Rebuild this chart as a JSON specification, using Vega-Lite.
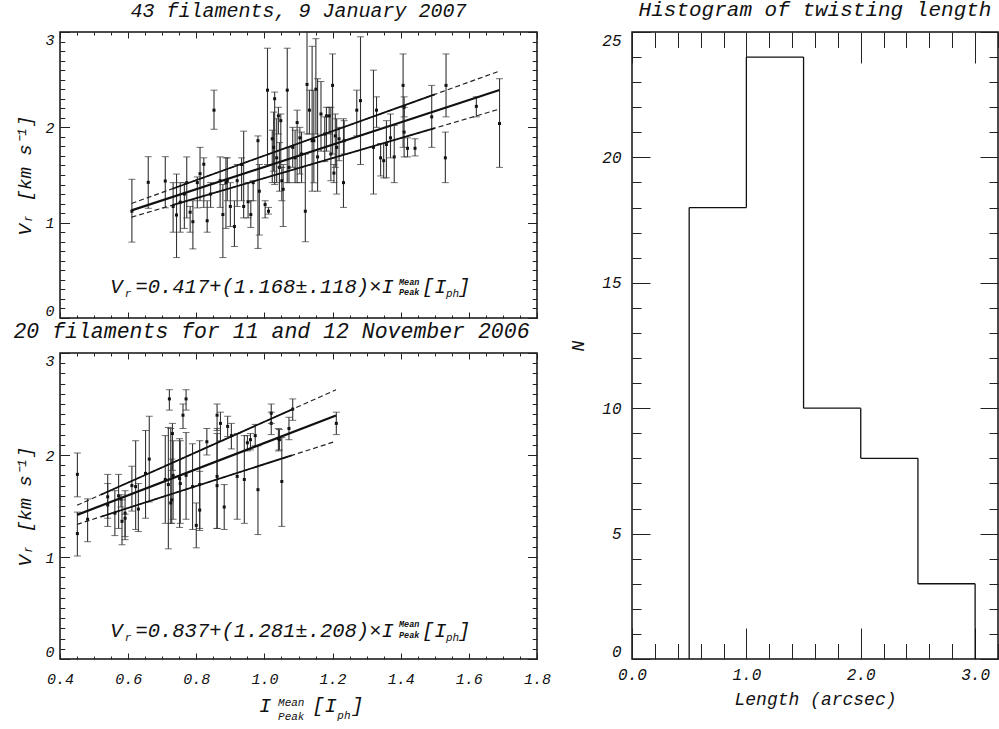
{
  "$schema": "https://vega.github.io/schema/vega-lite/v6.json",
  "background": "white",
  "padding": {"left": 12, "top": -3, "right": 0, "bottom": 0},
  "autosize": {"type": "pad"},
  "bounds": "full",
  "spacing": 17,
  "datasets": {
    "jan": [
      {"x": 0.611, "v": 1.12, "lo": 0.796, "hi": 1.455},
      {"x": 0.659, "v": 1.423, "lo": 1.151, "hi": 1.692},
      {"x": 0.709, "v": 1.437, "lo": 1.156, "hi": 1.692},
      {"x": 0.732, "v": 1.17, "lo": 0.9, "hi": 1.42},
      {"x": 0.742, "v": 1.08, "lo": 0.634, "hi": 1.51},
      {"x": 0.753, "v": 1.215, "lo": 0.9, "hi": 1.42},
      {"x": 0.765, "v": 1.3, "lo": 0.94, "hi": 1.42},
      {"x": 0.772, "v": 1.42, "lo": 1.05, "hi": 1.69},
      {"x": 0.782, "v": 1.11, "lo": 0.9, "hi": 1.17},
      {"x": 0.79, "v": 1.01, "lo": 0.725, "hi": 1.23},
      {"x": 0.803, "v": 1.42, "lo": 1.155, "hi": 1.48},
      {"x": 0.811, "v": 1.514, "lo": 1.23, "hi": 1.79},
      {"x": 0.822, "v": 1.613, "lo": 1.16, "hi": 1.68},
      {"x": 0.832, "v": 1.02, "lo": 0.9, "hi": 1.23},
      {"x": 0.852, "v": 2.18, "lo": 1.98, "hi": 2.39},
      {"x": 0.842, "v": 1.3, "lo": 1.16, "hi": 1.42},
      {"x": 0.87, "v": 1.44, "lo": 1.16, "hi": 1.69},
      {"x": 0.878, "v": 1.085, "lo": 0.634, "hi": 1.4},
      {"x": 0.887, "v": 1.42, "lo": 0.94, "hi": 1.68},
      {"x": 0.891, "v": 1.44, "lo": 1.23, "hi": 1.68},
      {"x": 0.9, "v": 1.17, "lo": 0.96, "hi": 1.42},
      {"x": 0.912, "v": 0.96, "lo": 0.75, "hi": 1.23},
      {"x": 0.92, "v": 1.44, "lo": 1.17, "hi": 1.61},
      {"x": 0.933, "v": 1.61, "lo": 1.23, "hi": 1.68},
      {"x": 0.939, "v": 1.17, "lo": 1.05, "hi": 1.96},
      {"x": 0.952, "v": 1.22, "lo": 1.05, "hi": 1.42},
      {"x": 0.96, "v": 1.085, "lo": 0.95, "hi": 1.23},
      {"x": 0.967, "v": 1.42, "lo": 1.23, "hi": 1.44},
      {"x": 0.981, "v": 1.86, "lo": 0.73, "hi": 1.91},
      {"x": 0.985, "v": 1.33, "lo": 0.87, "hi": 1.61},
      {"x": 1.002, "v": 1.19, "lo": 1.05, "hi": 1.23},
      {"x": 1.009, "v": 2.39, "lo": 1.61, "hi": 2.83},
      {"x": 1.012, "v": 1.12, "lo": 1.09, "hi": 1.16},
      {"x": 1.023, "v": 1.88, "lo": 1.42, "hi": 1.97},
      {"x": 1.027, "v": 1.79, "lo": 1.54, "hi": 2.16},
      {"x": 1.03, "v": 2.3, "lo": 1.4, "hi": 2.37},
      {"x": 1.036, "v": 1.68, "lo": 1.42, "hi": 2.09},
      {"x": 1.041, "v": 2.12, "lo": 1.93, "hi": 2.21},
      {"x": 1.044, "v": 1.58, "lo": 1.33, "hi": 1.84},
      {"x": 1.048, "v": 2.07, "lo": 1.58, "hi": 2.14},
      {"x": 1.051, "v": 1.44, "lo": 1.23, "hi": 1.58},
      {"x": 1.067, "v": 2.39, "lo": 1.42, "hi": 2.83},
      {"x": 1.072, "v": 1.58, "lo": 1.42, "hi": 1.79},
      {"x": 1.055, "v": 1.35, "lo": 0.96, "hi": 1.61},
      {"x": 1.083, "v": 1.79, "lo": 1.58, "hi": 2.0},
      {"x": 1.09, "v": 1.68, "lo": 1.42, "hi": 1.97},
      {"x": 1.096, "v": 2.05, "lo": 1.42, "hi": 2.18},
      {"x": 1.104, "v": 1.89, "lo": 1.51, "hi": 2.0},
      {"x": 1.109, "v": 1.72, "lo": 1.42, "hi": 1.95},
      {"x": 1.12, "v": 1.12, "lo": 0.8, "hi": 1.72},
      {"x": 1.125, "v": 2.45, "lo": 1.93, "hi": 3.0},
      {"x": 1.132, "v": 2.18, "lo": 1.93, "hi": 2.39},
      {"x": 1.14, "v": 1.86, "lo": 1.33, "hi": 2.85},
      {"x": 1.145, "v": 1.86, "lo": 1.42, "hi": 2.39},
      {"x": 1.151, "v": 2.4, "lo": 1.93, "hi": 2.93},
      {"x": 1.156, "v": 1.69, "lo": 1.33, "hi": 2.51},
      {"x": 1.166, "v": 2.14, "lo": 1.75, "hi": 2.48},
      {"x": 1.177, "v": 1.93, "lo": 1.64, "hi": 2.11},
      {"x": 1.182, "v": 2.12, "lo": 1.75, "hi": 2.21},
      {"x": 1.19, "v": 2.12, "lo": 1.93, "hi": 2.21},
      {"x": 1.195, "v": 1.72, "lo": 1.44, "hi": 2.21},
      {"x": 1.2, "v": 2.44, "lo": 1.72, "hi": 2.77},
      {"x": 1.208, "v": 1.91, "lo": 1.58, "hi": 2.14},
      {"x": 1.219, "v": 1.88, "lo": 1.65, "hi": 2.0},
      {"x": 1.204, "v": 1.52, "lo": 1.42, "hi": 1.61},
      {"x": 1.212, "v": 1.79, "lo": 1.3, "hi": 2.09},
      {"x": 1.232, "v": 1.42, "lo": 1.16, "hi": 2.09},
      {"x": 1.234, "v": 1.86, "lo": 1.72, "hi": 2.07},
      {"x": 1.271, "v": 2.18, "lo": 1.91, "hi": 2.39},
      {"x": 1.282, "v": 2.28, "lo": 1.61, "hi": 2.95},
      {"x": 1.32, "v": 1.79, "lo": 1.3, "hi": 2.6},
      {"x": 1.329, "v": 2.18, "lo": 2.0, "hi": 2.32},
      {"x": 1.341, "v": 1.68, "lo": 1.49, "hi": 1.83},
      {"x": 1.35, "v": 1.65, "lo": 1.47, "hi": 1.83},
      {"x": 1.358, "v": 1.82, "lo": 1.47, "hi": 2.07},
      {"x": 1.37, "v": 1.89, "lo": 1.68, "hi": 2.14},
      {"x": 1.381, "v": 1.69, "lo": 1.42, "hi": 2.02},
      {"x": 1.407, "v": 2.44, "lo": 1.79, "hi": 2.77},
      {"x": 1.41, "v": 1.95, "lo": 1.69, "hi": 2.21},
      {"x": 1.42, "v": 1.78, "lo": 1.69, "hi": 1.89},
      {"x": 1.442, "v": 1.78, "lo": 1.7, "hi": 1.88},
      {"x": 1.41, "v": 2.21, "lo": 2.11, "hi": 2.32},
      {"x": 1.491, "v": 2.11, "lo": 1.79, "hi": 2.44},
      {"x": 1.531, "v": 1.68, "lo": 1.42, "hi": 1.95},
      {"x": 1.533, "v": 2.44, "lo": 2.11, "hi": 2.77},
      {"x": 1.622, "v": 2.22, "lo": 2.11, "hi": 2.32},
      {"x": 1.69, "v": 2.04, "lo": 1.58, "hi": 2.51}
    ],
    "nov": [
      {"x": 0.451, "v": 1.81, "lo": 1.59, "hi": 2.02},
      {"x": 0.451, "v": 1.23, "lo": 1.01, "hi": 1.44},
      {"x": 0.481, "v": 1.37, "lo": 1.15, "hi": 1.57},
      {"x": 0.54, "v": 1.59, "lo": 1.3, "hi": 1.81},
      {"x": 0.54, "v": 1.51, "lo": 1.38, "hi": 1.72},
      {"x": 0.561, "v": 1.43, "lo": 1.21, "hi": 1.65},
      {"x": 0.572, "v": 1.6, "lo": 1.28, "hi": 1.81},
      {"x": 0.582, "v": 1.35, "lo": 1.12, "hi": 1.56},
      {"x": 0.579, "v": 1.57, "lo": 1.49, "hi": 1.61},
      {"x": 0.591, "v": 1.43, "lo": 1.17, "hi": 1.65},
      {"x": 0.591, "v": 1.38, "lo": 1.2, "hi": 1.42},
      {"x": 0.611, "v": 1.7, "lo": 1.45, "hi": 1.89},
      {"x": 0.622, "v": 1.69, "lo": 1.27, "hi": 2.14},
      {"x": 0.63, "v": 1.47, "lo": 1.25, "hi": 1.72},
      {"x": 0.651, "v": 1.82, "lo": 1.38, "hi": 2.24},
      {"x": 0.662, "v": 1.96, "lo": 1.54, "hi": 2.38},
      {"x": 0.709, "v": 1.76, "lo": 1.33, "hi": 2.19},
      {"x": 0.718, "v": 1.71, "lo": 1.08, "hi": 2.27},
      {"x": 0.721, "v": 2.55, "lo": 2.44, "hi": 2.64},
      {"x": 0.725, "v": 1.53, "lo": 1.33, "hi": 2.26},
      {"x": 0.73, "v": 2.21, "lo": 1.85, "hi": 2.31},
      {"x": 0.732, "v": 1.8, "lo": 1.37, "hi": 2.14},
      {"x": 0.728, "v": 1.56, "lo": 1.33, "hi": 1.96},
      {"x": 0.751, "v": 1.77, "lo": 1.29, "hi": 2.16},
      {"x": 0.753, "v": 1.72, "lo": 1.33, "hi": 2.14},
      {"x": 0.761, "v": 2.39, "lo": 2.26, "hi": 2.5},
      {"x": 0.77, "v": 2.55, "lo": 2.44, "hi": 2.64},
      {"x": 0.77, "v": 1.8, "lo": 1.37, "hi": 2.22},
      {"x": 0.789, "v": 1.69, "lo": 1.27, "hi": 2.11},
      {"x": 0.8, "v": 1.31, "lo": 1.09, "hi": 1.53},
      {"x": 0.81, "v": 1.71, "lo": 1.26, "hi": 2.14},
      {"x": 0.81, "v": 1.46, "lo": 1.28, "hi": 1.84},
      {"x": 0.831, "v": 2.13, "lo": 2.0, "hi": 2.26},
      {"x": 0.861, "v": 2.39, "lo": 2.24, "hi": 2.5},
      {"x": 0.861, "v": 1.79, "lo": 1.28, "hi": 2.26},
      {"x": 0.861, "v": 1.7, "lo": 1.28, "hi": 2.21},
      {"x": 0.871, "v": 2.31, "lo": 2.14, "hi": 2.42},
      {"x": 0.882, "v": 1.49, "lo": 1.27, "hi": 1.71},
      {"x": 0.892, "v": 2.28, "lo": 2.18, "hi": 2.38},
      {"x": 0.903, "v": 2.19, "lo": 2.06, "hi": 2.31},
      {"x": 0.92, "v": 1.79, "lo": 1.37, "hi": 2.21},
      {"x": 0.941, "v": 1.76, "lo": 1.33, "hi": 2.19},
      {"x": 0.95, "v": 2.12, "lo": 2.04, "hi": 2.19},
      {"x": 0.959, "v": 2.15, "lo": 2.05, "hi": 2.21},
      {"x": 0.973, "v": 2.19, "lo": 2.09, "hi": 2.3},
      {"x": 0.981, "v": 1.66, "lo": 1.22, "hi": 2.09},
      {"x": 1.02, "v": 2.41, "lo": 2.31, "hi": 2.5},
      {"x": 1.02, "v": 2.31, "lo": 2.2, "hi": 2.42},
      {"x": 1.041, "v": 2.16, "lo": 2.04, "hi": 2.26},
      {"x": 1.051, "v": 1.74, "lo": 1.3, "hi": 2.17},
      {"x": 1.044, "v": 2.15, "lo": 2.05, "hi": 2.25},
      {"x": 1.072, "v": 2.26, "lo": 2.15, "hi": 2.37},
      {"x": 1.083, "v": 2.45, "lo": 2.34, "hi": 2.55},
      {"x": 1.211, "v": 2.31, "lo": 2.2, "hi": 2.42}
    ],
    "janMid": [{"line": "mid", "x": 0.61, "v": 1.129}, {"line": "mid", "x": 1.69, "v": 2.391}],
    "janBand": [
      {"line": "upper", "x": 0.61, "v": 1.2015}, {"line": "upper", "x": 1.69, "v": 2.59},
      {"line": "lower", "x": 0.61, "v": 1.0575}, {"line": "lower", "x": 1.69, "v": 2.1915}
    ],
    "janBandSolid": [
      {"line": "upper", "x": 0.73, "v": 1.356}, {"line": "upper", "x": 1.5, "v": 2.346},
      {"line": "lower", "x": 0.73, "v": 1.1835}, {"line": "lower", "x": 1.5, "v": 1.992}
    ],
    "novMid": [{"line": "mid", "x": 0.45, "v": 1.413}, {"line": "mid", "x": 1.21, "v": 2.387}],
    "novBand": [
      {"line": "upper", "x": 0.45, "v": 1.507}, {"line": "upper", "x": 1.21, "v": 2.639},
      {"line": "lower", "x": 0.45, "v": 1.32}, {"line": "lower", "x": 1.21, "v": 2.135}
    ],
    "novBandSolid": [
      {"line": "upper", "x": 0.52, "v": 1.611}, {"line": "upper", "x": 1.08, "v": 2.445},
      {"line": "lower", "x": 0.52, "v": 1.395}, {"line": "lower", "x": 1.08, "v": 1.996}
    ],
    "eqJanBig": [
      {"t": "V", "x": 0.5476, "y": 0.262},
      {"t": "=0.417+(1.168±.118)×I", "x": 0.6213, "y": 0.262},
      {"t": "[I", "x": 1.4625, "y": 0.262},
      {"t": "]", "x": 1.568, "y": 0.262}
    ],
    "eqJanSmall": [
      {"t": "r", "x": 0.5899, "y": 0.22},
      {"t": "ph", "x": 1.5329, "y": 0.22}
    ],
    "eqJanTiny": [
      {"t": "Mean", "x": 1.395, "y": 0.341},
      {"t": "Peak", "x": 1.395, "y": 0.245}
    ],
    "eqNovBig": [
      {"t": "V", "x": 0.5476, "y": 0.216},
      {"t": "=0.837+(1.281±.208)×I", "x": 0.6213, "y": 0.216},
      {"t": "[I", "x": 1.4625, "y": 0.216},
      {"t": "]", "x": 1.568, "y": 0.216},
      {"t": "I", "x": 0.984, "y": -0.52},
      {"t": "[I", "x": 1.1405, "y": -0.52},
      {"t": "]", "x": 1.255, "y": -0.52}
    ],
    "eqNovSmall": [
      {"t": "r", "x": 0.5899, "y": 0.176},
      {"t": "ph", "x": 1.5329, "y": 0.176},
      {"t": "ph", "x": 1.214, "y": -0.585},
      {"t": "Mean", "x": 1.04, "y": -0.46},
      {"t": "Peak", "x": 1.04, "y": -0.6}
    ],
    "eqNovTiny": [
      {"t": "Mean", "x": 1.395, "y": 0.314},
      {"t": "Peak", "x": 1.395, "y": 0.21}
    ],
    "bins": [
      {"lo": 0.5, "hi": 1.0, "n": 18},
      {"lo": 1.0, "hi": 1.5, "n": 24},
      {"lo": 1.5, "hi": 2.0, "n": 10},
      {"lo": 2.0, "hi": 2.5, "n": 8},
      {"lo": 2.5, "hi": 3.0, "n": 3}
    ],
    "edges": [
      {"at": 0.5, "from": 0, "to": 18},
      {"at": 1.0, "from": 18, "to": 24},
      {"at": 1.5, "from": 24, "to": 10},
      {"at": 2.0, "from": 10, "to": 8},
      {"at": 2.5, "from": 8, "to": 3},
      {"at": 3.0, "from": 3, "to": 0}
    ]
  },
  "hconcat": [
    {
      "vconcat": [
        {
          "width": 477,
          "height": 286,
          "title": {"text": "43 filaments, 9 January 2007", "fontSize": 20, "offset": 10},
          "layer": [
            {
              "data": {"name": "jan"},
              "mark": {"type": "rule", "stroke": "#333", "strokeWidth": 1.1},
              "encoding": {
                "x": {"field": "x", "type": "quantitative", "scale": {"domain": [0.4, 1.8], "nice": false, "zero": false},
                  "axis": {"orient": "bottom", "values": [0.4,0.45,0.5,0.55,0.6,0.65,0.7,0.75,0.8,0.85,0.9,0.95,1.0,1.05,1.1,1.15,1.2,1.25,1.3,1.35,1.4,1.45,1.5,1.55,1.6,1.65,1.7,1.75,1.8],
                    "labels": false, "tickSize": {"condition": {"test": "abs(datum.value*5-round(datum.value*5))<0.001", "value": -6}, "value": -3}, "title": null}},
                "y": {"field": "lo", "type": "quantitative", "scale": {"domain": [0, 3], "nice": false, "zero": false},
                  "axis": {"orient": "left", "values": [0,0.1,0.2,0.3,0.4,0.5,0.6,0.7,0.8,0.9,1.0,1.1,1.2,1.3,1.4,1.5,1.6,1.7,1.8,1.9,2.0,2.1,2.2,2.3,2.4,2.5,2.6,2.7,2.8,2.9,3.0],
                    "labelExpr": "abs(datum.value-round(datum.value))<0.001 ? format(datum.value,'d') : ''",
                    "tickSize": {"condition": {"test": "abs(datum.value-round(datum.value))<0.001", "value": -9.5}, "value": -4.8},
                    "labelPadding": 15.5, "labelFlush": true, "title": "Vᵣ [km s⁻¹]", "titleFontSize": 19, "titlePadding": 10}},
                "y2": {"field": "hi"}
              }
            },
            {
              "data": {"name": "jan"},
              "mark": {"type": "point", "shape": "square", "filled": true, "size": 9, "color": "#111", "opacity": 1},
              "encoding": {
                "x": {"field": "x", "type": "quantitative", "scale": {"domain": [0.4, 1.8], "nice": false, "zero": false},
                  "axis": {"orient": "top", "values": [0.4,0.45,0.5,0.55,0.6,0.65,0.7,0.75,0.8,0.85,0.9,0.95,1.0,1.05,1.1,1.15,1.2,1.25,1.3,1.35,1.4,1.45,1.5,1.55,1.6,1.65,1.7,1.75,1.8],
                    "labels": false, "tickSize": {"condition": {"test": "abs(datum.value*5-round(datum.value*5))<0.001", "value": -6}, "value": -3}, "title": null}},
                "y": {"field": "v", "type": "quantitative", "scale": {"domain": [0, 3], "nice": false, "zero": false},
                  "axis": {"orient": "right", "values": [0,0.1,0.2,0.3,0.4,0.5,0.6,0.7,0.8,0.9,1.0,1.1,1.2,1.3,1.4,1.5,1.6,1.7,1.8,1.9,2.0,2.1,2.2,2.3,2.4,2.5,2.6,2.7,2.8,2.9,3.0],
                    "labels": false, "tickSize": {"condition": {"test": "abs(datum.value-round(datum.value))<0.001", "value": -9.5}, "value": -4.8}, "title": null}}
              }
            },
            {
              "data": {"name": "jan"},
              "mark": {"type": "tick", "orient": "horizontal", "size": 7, "thickness": 1, "color": "#333"},
              "encoding": {
                "x": {"field": "x", "type": "quantitative", "axis": null},
                "y": {"field": "lo", "type": "quantitative", "axis": null}
              }
            },
            {
              "data": {"name": "jan"},
              "mark": {"type": "tick", "orient": "horizontal", "size": 7, "thickness": 1, "color": "#333"},
              "encoding": {
                "x": {"field": "x", "type": "quantitative", "axis": null},
                "y": {"field": "hi", "type": "quantitative", "axis": null}
              }
            },
            {
              "data": {"name": "janBand"},
              "mark": {"type": "line", "color": "#222", "strokeWidth": 1.2, "strokeDash": [5, 3]},
              "encoding": {
                "x": {"field": "x", "type": "quantitative", "axis": null},
                "y": {"field": "v", "type": "quantitative", "axis": null},
                "detail": {"field": "line"}
              }
            },
            {
              "data": {"name": "janBandSolid"},
              "mark": {"type": "line", "color": "#111", "strokeWidth": 1.7},
              "encoding": {
                "x": {"field": "x", "type": "quantitative", "axis": null},
                "y": {"field": "v", "type": "quantitative", "axis": null},
                "detail": {"field": "line"}
              }
            },
            {
              "data": {"name": "janMid"},
              "mark": {"type": "line", "color": "#111", "strokeWidth": 2.2},
              "encoding": {
                "x": {"field": "x", "type": "quantitative", "axis": null},
                "y": {"field": "v", "type": "quantitative", "axis": null}
              }
            },
            {
              "data": {"name": "eqJanBig"},
              "mark": {"type": "text", "fontSize": 20.5},
              "encoding": {
                "x": {"field": "x", "type": "quantitative", "axis": null},
                "y": {"field": "y", "type": "quantitative", "axis": null},
                "text": {"field": "t"}
              }
            },
            {
              "data": {"name": "eqJanSmall"},
              "mark": {"type": "text", "fontSize": 11},
              "encoding": {
                "x": {"field": "x", "type": "quantitative", "axis": null},
                "y": {"field": "y", "type": "quantitative", "axis": null},
                "text": {"field": "t"}
              }
            },
            {
              "data": {"name": "eqJanTiny"},
              "mark": {"type": "text", "fontSize": 8.5, "fontWeight": "bold"},
              "encoding": {
                "x": {"field": "x", "type": "quantitative", "axis": null},
                "y": {"field": "y", "type": "quantitative", "axis": null},
                "text": {"field": "t"}
              }
            }
          ],
          "resolve": {"axis": {"x": "independent", "y": "independent"}}
        },
        {
          "width": 477,
          "height": 306,
          "title": {"text": "20 filaments for 11 and 12 November 2006", "fontSize": 21.5, "offset": 10, "dx": -27},
          "layer": [
            {
              "data": {"name": "nov"},
              "mark": {"type": "rule", "stroke": "#333", "strokeWidth": 1.1},
              "encoding": {
                "x": {"field": "x", "type": "quantitative", "scale": {"domain": [0.4, 1.8], "nice": false, "zero": false},
                  "axis": {"orient": "bottom", "values": [0.4,0.45,0.5,0.55,0.6,0.65,0.7,0.75,0.8,0.85,0.9,0.95,1.0,1.05,1.1,1.15,1.2,1.25,1.3,1.35,1.4,1.45,1.5,1.55,1.6,1.65,1.7,1.75,1.8],
                    "labelExpr": "abs(datum.value*5-round(datum.value*5))<0.001 ? format(datum.value,'.1f') : ''",
                    "tickSize": {"condition": {"test": "abs(datum.value*5-round(datum.value*5))<0.001", "value": -6}, "value": -3},
                    "labelPadding": 18, "labelFlush": false, "title": null}},
                "y": {"field": "lo", "type": "quantitative", "scale": {"domain": [0, 3], "nice": false, "zero": false},
                  "axis": {"orient": "left", "values": [0,0.1,0.2,0.3,0.4,0.5,0.6,0.7,0.8,0.9,1.0,1.1,1.2,1.3,1.4,1.5,1.6,1.7,1.8,1.9,2.0,2.1,2.2,2.3,2.4,2.5,2.6,2.7,2.8,2.9,3.0],
                    "labelExpr": "abs(datum.value-round(datum.value))<0.001 ? format(datum.value,'d') : ''",
                    "tickSize": {"condition": {"test": "abs(datum.value-round(datum.value))<0.001", "value": -9.5}, "value": -4.8},
                    "labelPadding": 15.5, "labelFlush": true, "title": "Vᵣ [km s⁻¹]", "titleFontSize": 19, "titlePadding": 10}},
                "y2": {"field": "hi"}
              }
            },
            {
              "data": {"name": "nov"},
              "mark": {"type": "point", "shape": "square", "filled": true, "size": 9, "color": "#111", "opacity": 1},
              "encoding": {
                "x": {"field": "x", "type": "quantitative", "scale": {"domain": [0.4, 1.8], "nice": false, "zero": false},
                  "axis": {"orient": "top", "values": [0.4,0.45,0.5,0.55,0.6,0.65,0.7,0.75,0.8,0.85,0.9,0.95,1.0,1.05,1.1,1.15,1.2,1.25,1.3,1.35,1.4,1.45,1.5,1.55,1.6,1.65,1.7,1.75,1.8],
                    "labels": false, "tickSize": {"condition": {"test": "abs(datum.value*5-round(datum.value*5))<0.001", "value": -6}, "value": -3}, "title": null}},
                "y": {"field": "v", "type": "quantitative", "scale": {"domain": [0, 3], "nice": false, "zero": false},
                  "axis": {"orient": "right", "values": [0,0.1,0.2,0.3,0.4,0.5,0.6,0.7,0.8,0.9,1.0,1.1,1.2,1.3,1.4,1.5,1.6,1.7,1.8,1.9,2.0,2.1,2.2,2.3,2.4,2.5,2.6,2.7,2.8,2.9,3.0],
                    "labels": false, "tickSize": {"condition": {"test": "abs(datum.value-round(datum.value))<0.001", "value": -9.5}, "value": -4.8}, "title": null}}
              }
            },
            {
              "data": {"name": "nov"},
              "mark": {"type": "tick", "orient": "horizontal", "size": 7, "thickness": 1, "color": "#333"},
              "encoding": {
                "x": {"field": "x", "type": "quantitative", "axis": null},
                "y": {"field": "lo", "type": "quantitative", "axis": null}
              }
            },
            {
              "data": {"name": "nov"},
              "mark": {"type": "tick", "orient": "horizontal", "size": 7, "thickness": 1, "color": "#333"},
              "encoding": {
                "x": {"field": "x", "type": "quantitative", "axis": null},
                "y": {"field": "hi", "type": "quantitative", "axis": null}
              }
            },
            {
              "data": {"name": "novBand"},
              "mark": {"type": "line", "color": "#222", "strokeWidth": 1.2, "strokeDash": [5, 3]},
              "encoding": {
                "x": {"field": "x", "type": "quantitative", "axis": null},
                "y": {"field": "v", "type": "quantitative", "axis": null},
                "detail": {"field": "line"}
              }
            },
            {
              "data": {"name": "novBandSolid"},
              "mark": {"type": "line", "color": "#111", "strokeWidth": 1.7},
              "encoding": {
                "x": {"field": "x", "type": "quantitative", "axis": null},
                "y": {"field": "v", "type": "quantitative", "axis": null},
                "detail": {"field": "line"}
              }
            },
            {
              "data": {"name": "novMid"},
              "mark": {"type": "line", "color": "#111", "strokeWidth": 2.2},
              "encoding": {
                "x": {"field": "x", "type": "quantitative", "axis": null},
                "y": {"field": "v", "type": "quantitative", "axis": null}
              }
            },
            {
              "data": {"name": "eqNovBig"},
              "mark": {"type": "text", "fontSize": 20.5},
              "encoding": {
                "x": {"field": "x", "type": "quantitative", "axis": null},
                "y": {"field": "y", "type": "quantitative", "axis": null},
                "text": {"field": "t"}
              }
            },
            {
              "data": {"name": "eqNovSmall"},
              "mark": {"type": "text", "fontSize": 11},
              "encoding": {
                "x": {"field": "x", "type": "quantitative", "axis": null},
                "y": {"field": "y", "type": "quantitative", "axis": null},
                "text": {"field": "t"}
              }
            },
            {
              "data": {"name": "eqNovTiny"},
              "mark": {"type": "text", "fontSize": 8.5, "fontWeight": "bold"},
              "encoding": {
                "x": {"field": "x", "type": "quantitative", "axis": null},
                "y": {"field": "y", "type": "quantitative", "axis": null},
                "text": {"field": "t"}
              }
            }
          ],
          "resolve": {"axis": {"x": "independent", "y": "independent"}}
        }
      ],
      "spacing": 35,
      "bounds": "flush"
    },
    {
      "width": 366,
      "height": 627,
      "title": {"text": "Histogram of twisting length", "fontSize": 21, "offset": 12},
      "layer": [
        {
          "data": {"name": "bins"},
          "mark": {"type": "rule", "stroke": "#111", "strokeWidth": 1.3},
          "encoding": {
            "x": {"field": "lo", "type": "quantitative", "scale": {"domain": [0, 3.2], "nice": false, "zero": false},
              "axis": {"orient": "bottom", "values": [0,0.2,0.4,0.6,0.8,1.0,1.2,1.4,1.6,1.8,2.0,2.2,2.4,2.6,2.8,3.0,3.2],
                "labelExpr": "abs(datum.value-round(datum.value))<0.001 ? format(datum.value,'.1f') : ''",
                "tickSize": {"condition": {"test": "abs(datum.value-round(datum.value))<0.001", "value": -31}, "value": -15.5},
                "labelPadding": 38, "labelFlush": false, "labelFontSize": 16,
                "title": "Length (arcsec)", "titleFontSize": 18, "titlePadding": -7}},
            "x2": {"field": "hi"},
            "y": {"field": "n", "type": "quantitative", "scale": {"domain": [0, 25], "nice": false, "zero": false},
              "axis": {"orient": "left", "values": [0,1,2,3,4,5,6,7,8,9,10,11,12,13,14,15,16,17,18,19,20,21,22,23,24,25],
                "labelExpr": "datum.value % 5 == 0 ? format(datum.value,'d') : ''",
                "tickSize": {"condition": {"test": "datum.value % 5 == 0", "value": -18}, "value": -9},
                "labelPadding": 29, "labelFlush": true, "labelFontSize": 16,
                "title": "N", "titleFontSize": 18, "titlePadding": 14}}
          }
        },
        {
          "data": {"name": "edges"},
          "mark": {"type": "rule", "stroke": "#111", "strokeWidth": 1.3},
          "encoding": {
            "x": {"field": "at", "type": "quantitative", "scale": {"domain": [0, 3.2], "nice": false, "zero": false},
              "axis": {"orient": "top", "values": [0,0.2,0.4,0.6,0.8,1.0,1.2,1.4,1.6,1.8,2.0,2.2,2.4,2.6,2.8,3.0,3.2],
                "labels": false,
                "tickSize": {"condition": {"test": "abs(datum.value-round(datum.value))<0.001", "value": -31}, "value": -15.5},
                "title": null}},
            "y": {"field": "from", "type": "quantitative", "scale": {"domain": [0, 25], "nice": false, "zero": false},
              "axis": {"orient": "right", "values": [0,1,2,3,4,5,6,7,8,9,10,11,12,13,14,15,16,17,18,19,20,21,22,23,24,25],
                "labels": false,
                "tickSize": {"condition": {"test": "datum.value % 5 == 0", "value": -18}, "value": -9},
                "title": null}},
            "y2": {"field": "to"}
          }
        }
      ],
      "resolve": {"axis": {"x": "independent", "y": "independent"}}
    }
  ],
  "config": {
    "view": {"stroke": "#111", "strokeWidth": 1.5},
    "axis": {"grid": false, "domain": false, "tickColor": "#222", "tickWidth": 1, "labelFont": "Liberation Mono", "labelFontStyle": "italic", "labelFontSize": 15, "labelColor": "#111", "titleFont": "Liberation Mono", "titleFontStyle": "italic", "titleFontWeight": "normal", "titleColor": "#111", "labelOverlap": false},
    "title": {"font": "Liberation Mono", "fontStyle": "italic", "fontWeight": "normal", "color": "#111", "anchor": "middle", "baseline": "alphabetic"},
    "text": {"font": "Liberation Mono", "fontStyle": "italic", "color": "#111", "align": "left", "baseline": "alphabetic"}
  }
}
